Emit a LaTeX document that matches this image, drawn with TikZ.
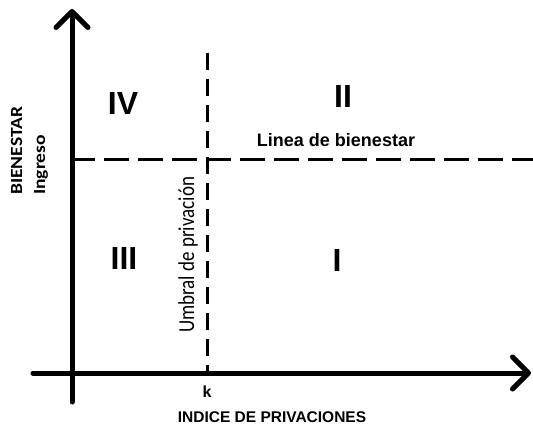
\documentclass[tikz,border=0pt]{standalone}
\usepackage{fontspec}
\setmainfont{Liberation Sans}
\newfontfamily\calib{Carlito}
\usetikzlibrary{arrows.meta}
\tikzset{
  axis/.style={line width=5pt,line cap=round,-{Straight Barb[length=16pt,width=32pt,round]}},
  umbral/.style={line width=3pt,dash pattern=on 17pt off 9pt},
  linea/.style={line width=3pt,dash pattern=on 25pt off 9pt},
  roman/.style={inner sep=0pt,font=\fontsize{32}{32}\selectfont\bfseries},
  vlabel/.style={inner sep=0pt,rotate=90,anchor=base west}
}
\begin{document}
\begin{tikzpicture}[x=1pt,y=-1pt]
    \useasboundingbox (0,0) rectangle (533,428);
    \coordinate (o) at (72,373);
    \coordinate (ytop) at (72,9);
    \coordinate (ybot) at (72,402);
    \coordinate (xleft) at (33,373);
    \coordinate (xright) at (531,373);
    \draw[line width=5pt,line cap=round] (ybot)--(o);
    \draw[axis] (o)--(ytop);
    \draw[axis] (xleft)--(xright);
    \draw[linea] (70,159)--(533,159); % linea de bienestar
    \draw[umbral] (207,53)--(207,373); % umbral k
    \node[roman] (iv) at (123,103.5) {IV};
    \node[roman] (ii) at (343,96.5) {II};
    \node[roman] (iii) at (124,258) {III};
    \node[roman] (i) at (337,260) {I};
    \node[inner sep=0pt,anchor=base,font=\fontsize{18}{18}\selectfont\bfseries] (lb) at (336,146) {Linea de bienestar};
    \node[inner sep=0pt,anchor=base,font=\fontsize{16}{16}\selectfont\bfseries] (k) at (207,397) {k};
    \node[inner sep=0pt,anchor=base,font=\fontsize{15.5}{15.5}\selectfont\bfseries] (ip) at (272,422) {INDICE DE PRIVACIONES};
    \node[vlabel,font=\calib\bfseries\fontsize{17}{17}\selectfont] (bien) at (22,195) {\scalebox{1.15}[1]{BIENESTAR}};
    \node[vlabel,font=\calib\bfseries\fontsize{17}{17}\selectfont] (ing) at (45,195) {\scalebox{1.15}[1]{Ingreso}};
    \node[vlabel,font=\calib\fontsize{19}{19}\selectfont] (ump) at (194,333) {\scalebox{1}[1.2]{Umbral de privación}};
\end{tikzpicture}
\end{document}
